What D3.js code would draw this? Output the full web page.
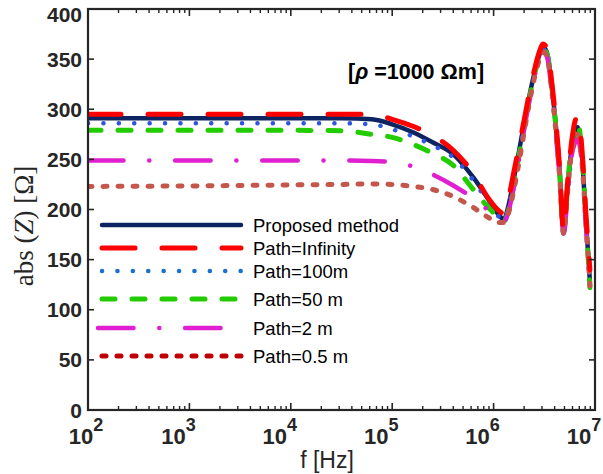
<!DOCTYPE html>
<html>
<head>
<meta charset="utf-8">
<script src="https://cdn.jsdelivr.net/npm/d3@7"></script>
<style>
  html, body { margin: 0; padding: 0; background: #fff; }
  svg { display: block; }
  .tick-label { font-family: "Liberation Sans", Arial, sans-serif; font-weight: bold; fill: #262626; }
  .legend-label { font-family: "Liberation Sans", Arial, sans-serif; font-size: 18.5px; fill: #000; }
</style>
</head>
<body>
<svg id="viz" width="603" height="474"></svg>
<script>
// frequency grid (Hz)
const freq = [1e2, 1e3, 1e4, 3.2e4, 6.3e4, 1e5, 1.6e5, 2.5e5, 4e5, 6.3e5, 8.9e5,
  1.12e6, 1.26e6, 1.41e6, 1.58e6, 1.78e6, 2.0e6, 2.24e6, 2.51e6, 2.82e6, 3.09e6,
  3.39e6, 3.72e6, 4.07e6, 4.47e6, 4.9e6, 5.37e6, 5.89e6, 6.31e6, 6.76e6, 7.41e6,
  8.13e6, 8.91e6];

// abs(Z) in ohm
const proposed = [291, 291, 291, 291, 290, 285, 277, 267, 255, 232, 210,
  195, 190, 205, 230, 258, 286, 312, 335, 354, 362,
  355, 326, 288, 240, 180, 222, 262, 278, 282, 255, 190, 128];
const pathInf = [295, 295, 295, 295, 295, 290, 283, 274, 259, 236, 211,
  199, 196, 212, 237, 263, 289, 315, 338, 357, 365,
  359, 330, 292, 243, 178, 228, 268, 287, 293, 262, 196, 140];
const path100 = [286, 286, 286, 286, 285, 280, 273, 264, 252, 229, 207,
  193, 189, 203, 228, 256, 284, 310, 333, 352, 360,
  352, 322, 283, 235, 178, 215, 255, 268, 272, 248, 185, 125];
const path50 = [279, 279, 279, 278.5, 275, 272, 265, 256, 244, 220, 202,
  192, 188, 200, 224, 253, 282, 309, 333, 352, 360,
  354, 326, 287, 238, 177, 225, 265, 281, 286, 258, 192, 122];
const path2 = [249, 249, 249, 249, 248.5, 247, 243, 235, 224, 211, 199,
  190, 188, 199, 222, 250, 280, 307, 331, 350, 358,
  351, 321, 281, 233, 176, 214, 254, 266, 270, 247, 186, 122];
const path05 = [223, 223.5, 224.5, 225, 225.5, 225, 223, 220, 213, 202, 192,
  187, 187, 197, 219, 247, 277, 305, 330, 349, 357,
  351, 322, 283, 235, 176, 218, 258, 270, 275, 250, 188, 124];

const seriesNames = ["Proposed method", "Path=Infinity", "Path=100m", "Path=50 m", "Path=2 m", "Path=0.5 m"];
const yTicks = [0, 50, 100, 150, 200, 250, 300, 350, 400];
const xDecades = [2, 3, 4, 5, 6, 7];

const svg = d3.select("#viz");

const plotL = 88, plotR = 595, plotT = 9, plotB = 410;
const x = d3.scaleLog().domain([1e2, 1e7]).range([plotL, plotR]);
const y = d3.scaleLinear().domain([0, 400]).range([plotB, plotT]);

const styles = [
  { data: proposed, color: "#0c2461", width: 4.5, dash: null, cap: "round" },
  { data: pathInf,  color: "#ff0000", width: 5,   dash: "33,27", cap: "round" },
  { data: path100,  color: "#2f55e0", width: 4.5, dash: "0.1,15.3", cap: "round", legColor: "#1a72cc" },
  { data: path50,   color: "#22cc00", width: 5,   dash: "13,17", cap: "round" },
  { data: path2,    color: "#e020d0", width: 4.5, dash: "35.5,25.75,0.1,25.75", cap: "round" },
  { data: path05,   color: "#c4564c", width: 5,   dash: "4,11", cap: "round", legColor: "#c00000" }
];

const line = d3.line()
  .x((d, i) => x(freq[i]))
  .y(d => y(d))
  .curve(d3.curveMonotoneX);

svg.append("defs").append("clipPath").attr("id", "clip")
  .append("rect").attr("x", plotL).attr("y", plotT).attr("width", plotR - plotL).attr("height", plotB - plotT);

const plotG = svg.append("g").attr("clip-path", "url(#clip)");
// draw order: red on top
[0, 2, 3, 4, 5, 1].forEach(k => {
  const s = styles[k];
  plotG.append("path")
    .attr("d", line(s.data))
    .attr("fill", "none")
    .attr("stroke", s.color)
    .attr("stroke-width", s.width)
    .attr("stroke-linecap", s.cap)
    .attr("stroke-linejoin", "round")
    .attr("stroke-dasharray", s.dash);
});

// frame
const axisColor = "#262626";
svg.append("rect")
  .attr("x", plotL).attr("y", plotT)
  .attr("width", plotR - plotL).attr("height", plotB - plotT)
  .attr("fill", "none").attr("stroke", axisColor).attr("stroke-width", 2.2);

// y ticks (inward, both sides)
yTicks.forEach(v => {
  const py = y(v);
  svg.append("line").attr("x1", plotL).attr("x2", plotL + 6).attr("y1", py).attr("y2", py)
    .attr("stroke", axisColor).attr("stroke-width", 1.6);
  svg.append("line").attr("x1", plotR).attr("x2", plotR - 6).attr("y1", py).attr("y2", py)
    .attr("stroke", axisColor).attr("stroke-width", 1.6);
  svg.append("text").attr("class", "tick-label")
    .attr("x", 82).attr("y", Math.max(py + 7.5, 22))
    .attr("text-anchor", "end")
    .attr("font-size", 21)
    .text(v);
});

// x ticks (log, inward, top and bottom)
const minor = [];
for (let e = 2; e < 7; e++) for (let m = 2; m <= 9; m++) minor.push(m * Math.pow(10, e));
minor.forEach(f => {
  const px = x(f);
  svg.append("line").attr("x1", px).attr("x2", px).attr("y1", plotB).attr("y2", plotB - 4)
    .attr("stroke", axisColor).attr("stroke-width", 1.4);
  svg.append("line").attr("x1", px).attr("x2", px).attr("y1", plotT).attr("y2", plotT + 4)
    .attr("stroke", axisColor).attr("stroke-width", 1.4);
});
xDecades.forEach(e => {
  const px = x(Math.pow(10, e));
  svg.append("line").attr("x1", px).attr("x2", px).attr("y1", plotB).attr("y2", plotB - 7)
    .attr("stroke", axisColor).attr("stroke-width", 1.6);
  svg.append("line").attr("x1", px).attr("x2", px).attr("y1", plotT).attr("y2", plotT + 7)
    .attr("stroke", axisColor).attr("stroke-width", 1.6);
  const t = svg.append("text").attr("class", "tick-label")
    .attr("x", Math.max(px - 11, 86)).attr("y", 444)
    .attr("text-anchor", "middle")
    .attr("font-size", 22);
  t.append("tspan").text("10");
  t.append("tspan").attr("dy", -13).attr("font-size", 18).text(e);
});

// axis titles
svg.append("text")
  .attr("x", 327).attr("y", 468)
  .attr("text-anchor", "middle")
  .attr("font-family", "Liberation Sans, Arial, sans-serif")
  .attr("font-size", 23)
  .attr("fill", "#262626")
  .text("f [Hz]");

const yl = svg.append("text")
  .attr("transform", "translate(33,226) rotate(-90)")
  .attr("text-anchor", "middle")
  .attr("font-family", "Liberation Serif, Times New Roman, serif")
  .attr("font-size", 27)
  .attr("fill", "#262626");
yl.append("tspan").text("abs (");
yl.append("tspan").attr("font-style", "italic").text("Z");
yl.append("tspan").text(") [Ω]");

// annotation
const ann = svg.append("text")
  .attr("x", 348).attr("y", 79)
  .attr("font-family", "Liberation Sans, Arial, sans-serif")
  .attr("font-weight", "bold")
  .attr("font-size", 21.5)
  .attr("fill", "#000");
ann.append("tspan").text("[");
ann.append("tspan").attr("font-style", "italic").text("ρ");
ann.append("tspan").text(" =1000 Ωm]");

// legend
const legRows = [225, 248, 271, 299, 328, 356];
styles.forEach((s, i) => {
  const ly = legRows[i];
  svg.append("line")
    .attr("x1", i === 4 ? 98 : 102).attr("x2", 241)
    .attr("y1", ly).attr("y2", ly)
    .attr("stroke", s.legColor || s.color)
    .attr("stroke-width", s.width)
    .attr("stroke-linecap", s.cap)
    .attr("stroke-dasharray", s.dash);
  svg.append("text").attr("class", "legend-label")
    .attr("x", 253).attr("y", ly + 7)
    .text(seriesNames[i]);
});
</script>
</body>
</html>
